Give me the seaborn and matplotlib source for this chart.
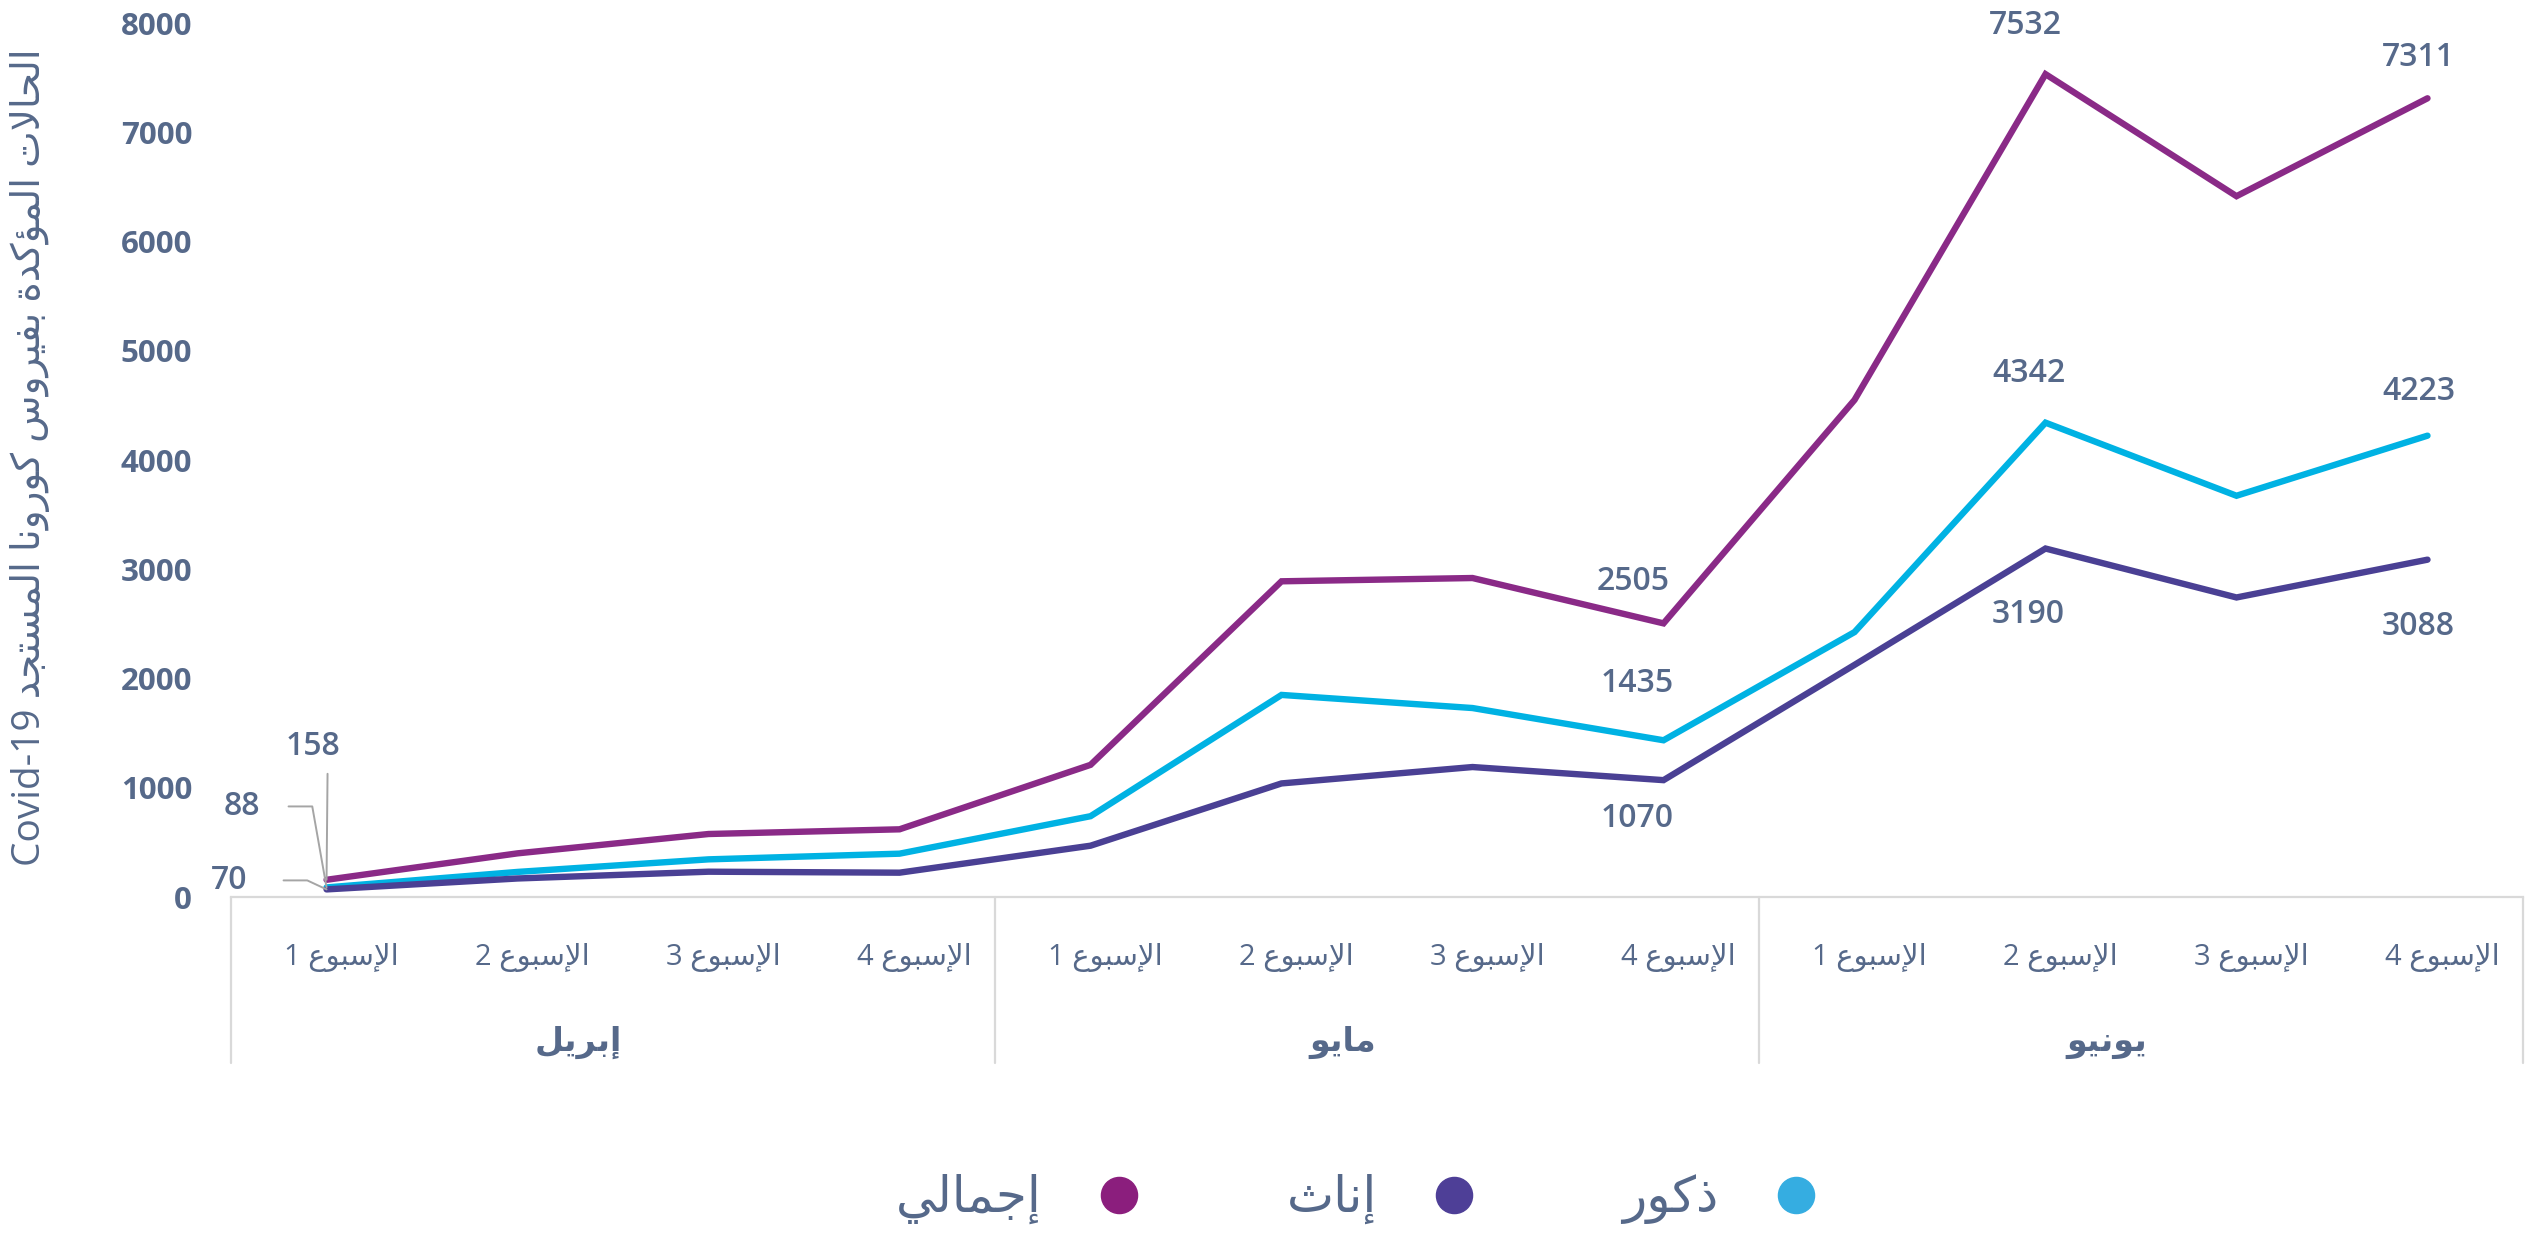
import re
import numpy as np
import pandas as pd
import matplotlib
matplotlib.use("Agg")
import matplotlib.pyplot as plt
import matplotlib.transforms as mtransforms
from matplotlib.lines import Line2D
import seaborn as sns

# ---------------------------------------------------------------- data
months = ["إبريل", "مايو", "يونيو"]
week_word = "الإسبوع"
week_numbers = [1, 2, 3, 4]
y_title = "الحالات المؤكدة بفيروس كورونا المستجد Covid-19"
legend_names = ["إجمالي", "إناث", "ذكور"]

total_cases = [158, 400, 577, 620, 1210, 2890, 2920, 2505, 4550, 7532, 6415, 7311]
male_cases = [88, 230, 345, 397, 740, 1850, 1730, 1435, 2425, 4342, 3673, 4223]
female_cases = [70, 170, 232, 223, 470, 1040, 1190, 1070, 2125, 3190, 2742, 3088]

y_ticks = [0, 1000, 2000, 3000, 4000, 5000, 6000, 7000, 8000]
labelled_weeks = [7, 9, 11]

# ---------------------------------------------------------------- Arabic shaping
_FORMS = {
    "ا": ("\uFE8D", "\uFE8E", None, None),
    "إ": ("\uFE87", "\uFE88", None, None),
    "أ": ("\uFE83", "\uFE84", None, None),
    "ؤ": ("\uFE85", "\uFE86", None, None),
    "ب": ("\uFE8F", "\uFE90", "\uFE91", "\uFE92"),
    "ة": ("\uFE93", "\uFE94", None, None),
    "ت": ("\uFE95", "\uFE96", "\uFE97", "\uFE98"),
    "ث": ("\uFE99", "\uFE9A", "\uFE9B", "\uFE9C"),
    "ج": ("\uFE9D", "\uFE9E", "\uFE9F", "\uFEA0"),
    "ح": ("\uFEA1", "\uFEA2", "\uFEA3", "\uFEA4"),
    "د": ("\uFEA9", "\uFEAA", None, None),
    "ذ": ("\uFEAB", "\uFEAC", None, None),
    "ر": ("\uFEAD", "\uFEAE", None, None),
    "س": ("\uFEB1", "\uFEB2", "\uFEB3", "\uFEB4"),
    "ع": ("\uFEC9", "\uFECA", "\uFECB", "\uFECC"),
    "ف": ("\uFED1", "\uFED2", "\uFED3", "\uFED4"),
    "ك": ("\uFED9", "\uFEDA", "\uFEDB", "\uFEDC"),
    "ل": ("\uFEDD", "\uFEDE", "\uFEDF", "\uFEE0"),
    "م": ("\uFEE1", "\uFEE2", "\uFEE3", "\uFEE4"),
    "ن": ("\uFEE5", "\uFEE6", "\uFEE7", "\uFEE8"),
    "و": ("\uFEED", "\uFEEE", None, None),
    "ي": ("\uFEF1", "\uFEF2", "\uFEF3", "\uFEF4"),
}
_LAM_ALEF = {"ا": ("\uFEFB", "\uFEFC"), "إ": ("\uFEF9", "\uFEFA"),
             "أ": ("\uFEF7", "\uFEF8"), "آ": ("\uFEF5", "\uFEF6")}


def _shape(text):
    units, i = [], 0
    while i < len(text):
        c = text[i]
        if c == "ل" and i + 1 < len(text) and text[i + 1] in _LAM_ALEF:
            units.append(("LA", text[i + 1]))
            i += 2
        else:
            units.append(("C", c))
            i += 1

    def joins_next(u):
        return u[0] == "C" and u[1] in _FORMS and _FORMS[u[1]][2] is not None

    def joins_prev(u):
        return u[0] == "LA" or u[1] in _FORMS

    out = []
    for k, u in enumerate(units):
        prev = units[k - 1] if k > 0 else None
        nxt = units[k + 1] if k + 1 < len(units) else None
        cp = prev is not None and joins_next(prev) and joins_prev(u)
        if u[0] == "LA":
            out.append(_LAM_ALEF[u[1]][1 if cp else 0])
            continue
        if u[1] not in _FORMS:
            out.append(u[1])
            continue
        iso, fin, ini, med = _FORMS[u[1]]
        cn = nxt is not None and joins_next(u) and joins_prev(nxt)
        out.append(med if (cp and cn) else fin if cp else ini if cn else iso)
    return "".join(out)


def ar(text):
    """Logical-order Arabic string -> visual-order string for drawing."""
    visual = _shape(text)[::-1]
    return re.sub(r"[A-Za-z0-9\-\.]+", lambda m: m.group(0)[::-1], visual)


# ---------------------------------------------------------------- style
sns.set_style("white")
plt.rcParams["font.family"] = ["Open Sans", "DejaVu Sans"]
TEXT = "#56698a"
GRID = "#d9d9d9"
LEADER = "#a5a5a5"
C_TOTAL, C_MALE, C_FEMALE = "#8a2a87", "#00b2e3", "#4a4094"

weeks = np.arange(len(total_cases))
df = pd.DataFrame({
    "week": np.tile(weeks, 3),
    "cases": total_cases + male_cases + female_cases,
    "series": ["total"] * 12 + ["male"] * 12 + ["female"] * 12,
})

fig = plt.figure(figsize=(25.39, 12.44), dpi=100)
ax = fig.add_axes([0.0910, 0.2789, 0.9027, 0.7026])

sns.lineplot(data=df, x="week", y="cases", hue="series",
             hue_order=["total", "male", "female"],
             palette={"total": C_TOTAL, "male": C_MALE, "female": C_FEMALE},
             linewidth=4.6, legend=False, ax=ax,
             solid_capstyle="round", solid_joinstyle="miter")

ax.set_xlim(-0.5, 11.5)
ax.set_ylim(0, 8000)
ax.set_yticks(y_ticks)
ax.set_yticklabels([str(v) for v in y_ticks], fontsize=22.5, fontweight="bold", color=TEXT)
ax.tick_params(axis="y", length=0, pad=28)
ax.set_xticks([])
ax.set_xlabel("")
for s in ["top", "right", "left"]:
    ax.spines[s].set_visible(False)
ax.spines["bottom"].set_color(GRID)
ax.spines["bottom"].set_linewidth(1.6)

ax.set_ylabel(ar(y_title), fontsize=28, color=TEXT)
ax.yaxis.set_label_coords(-0.079, 0.503)

# category axis: week labels, month labels and separators
trans = mtransforms.blended_transform_factory(ax.transData, ax.transAxes)
for m in range(3):
    for w, n in enumerate(week_numbers):
        ax.text(m * 4 + w + 0.08, -0.0686, ar(f"{week_word} {n}"), transform=trans,
                ha="center", va="center", fontsize=21, color=TEXT)
    ax.text(m * 4 + 1.5 - 0.18, -0.166, ar(months[m]), transform=trans,
            ha="center", va="center", fontsize=24, fontweight="bold", color=TEXT)
for b in [-0.5, 3.5, 7.5, 11.5]:
    ax.plot([b, b], [0, -0.19], transform=trans, color=GRID, lw=1.6, clip_on=False)

# value labels
label_style = dict(textcoords="offset pixels", ha="center", va="center",
                   fontsize=23, fontweight="semibold", color=TEXT, annotation_clip=False)
offsets_total = {7: (-30, 42), 9: (-20, 49), 11: (-9, 41)}
offsets_male = {7: (-26, 57), 9: (-17, 49), 11: (-9, 44)}
offsets_female = {7: (-26, -38), 9: (-17, -66), 11: (-9, -67)}
for i in labelled_weeks:
    ax.annotate(str(total_cases[i]), (i, total_cases[i]), xytext=offsets_total[i], **label_style)
    ax.annotate(str(male_cases[i]), (i, male_cases[i]), xytext=offsets_male[i], **label_style)
    ax.annotate(str(female_cases[i]), (i, female_cases[i]), xytext=offsets_female[i], **label_style)

# first week: labels pulled away from the crowded start with leader lines
ax.annotate(str(total_cases[0]), (0, total_cases[0]), xytext=(-14, 133), **label_style)
ax.annotate(str(male_cases[0]), (0, male_cases[0]), xytext=(-85, 81), **label_style)
ax.annotate(str(female_cases[0]), (0, female_cases[0]), xytext=(-97, 9), **label_style)
lead = dict(arrowstyle="-", color=LEADER, lw=1.4, shrinkA=0, shrinkB=0)
ax.annotate("", (0, total_cases[0]), xytext=(1, 106), textcoords="offset pixels",
            arrowprops=lead, annotation_clip=False)
ax.annotate("", (0, male_cases[0]), xytext=(-38, 81), textcoords="offset pixels",
            arrowprops=dict(lead, connectionstyle="angle,angleA=0,angleB=100,rad=0"),
            annotation_clip=False)
ax.annotate("", (0, female_cases[0]), xytext=(-43, 9), textcoords="offset pixels",
            arrowprops=dict(lead, connectionstyle="angle,angleA=0,angleB=155,rad=0"),
            annotation_clip=False)

# legend (right-to-left order)
handles = [Line2D([], [], ls="", marker="o", markersize=26, color=c)
           for c in ["#8b1e7d", "#4e3f97", "#35ade1"]]
fig.legend(handles, [ar(n) for n in legend_names], ncol=3, markerfirst=False,
           frameon=False, loc="center", bbox_to_anchor=(0.5335, 0.036),
           fontsize=36, labelcolor=TEXT, handlelength=0.7, handletextpad=1.2,
           columnspacing=3.0)

fig.savefig("out.png", dpi=100, facecolor="white")
